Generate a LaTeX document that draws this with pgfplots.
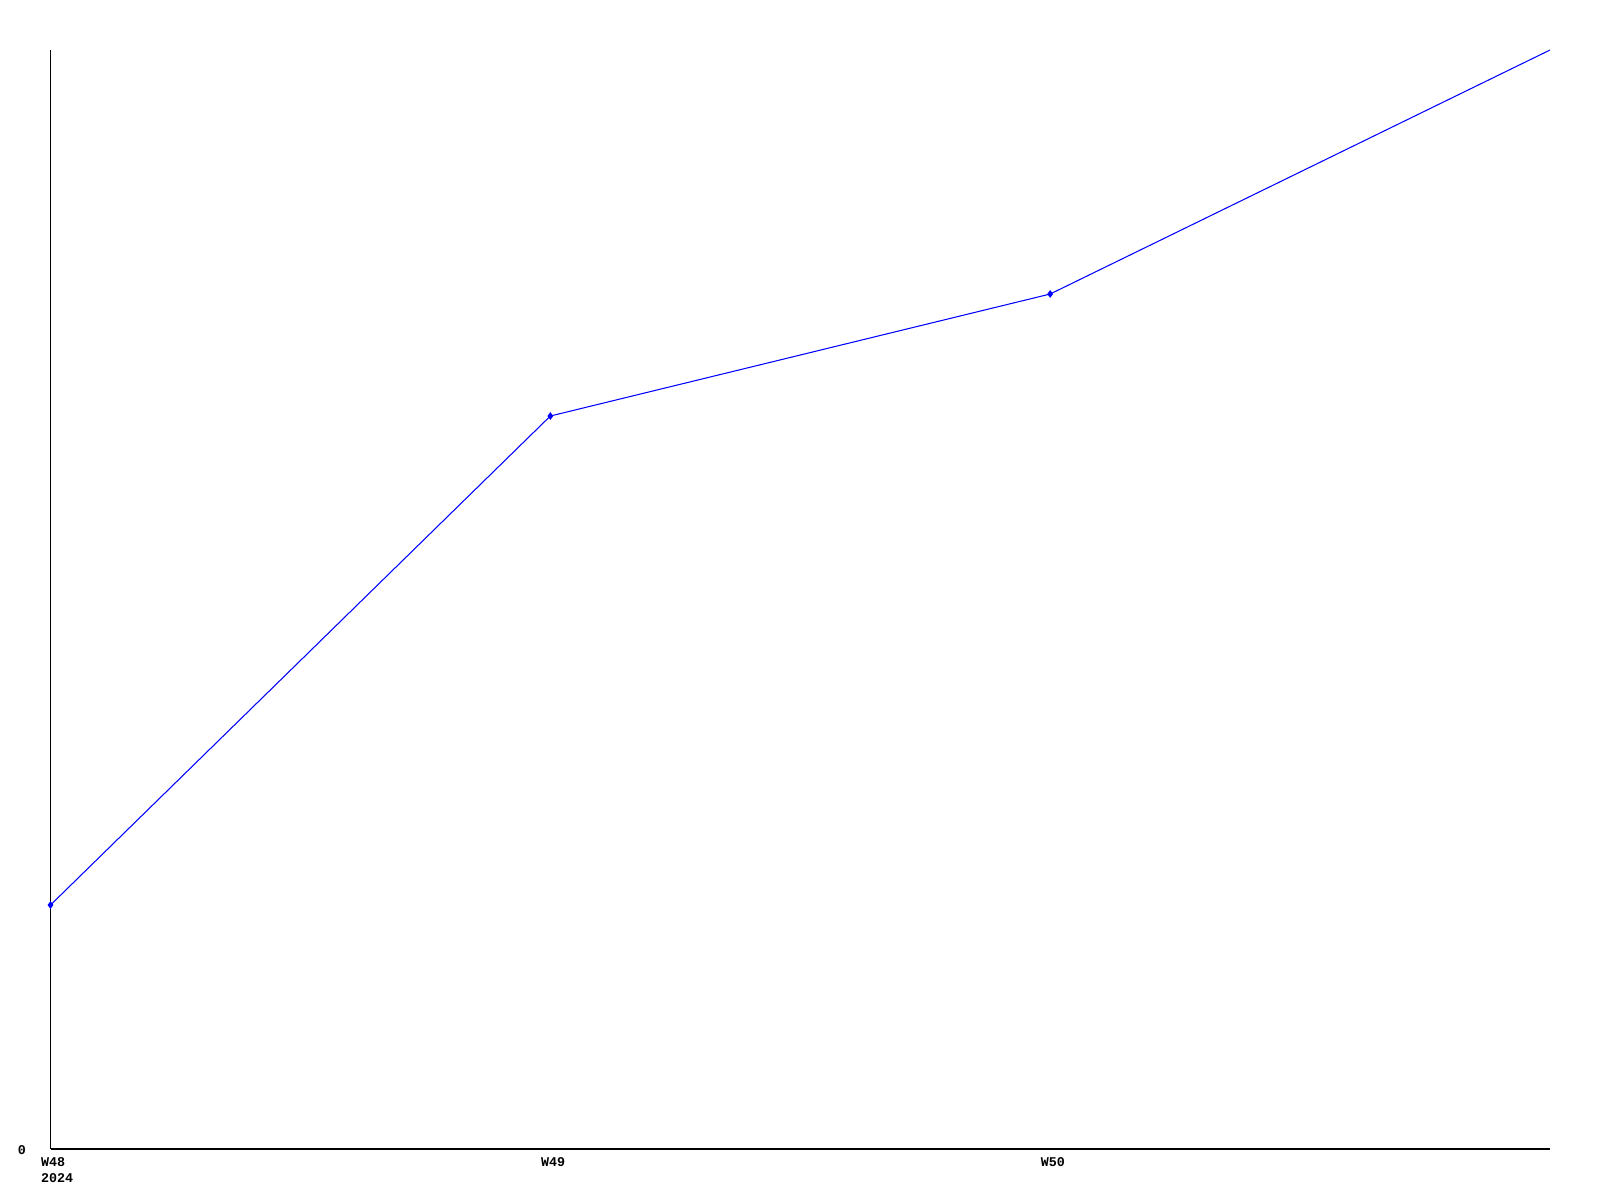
\documentclass[border=0pt]{standalone}
\usepackage{fontspec}
\setmainfont{Liberation Mono}
\usepackage{pgfplots}
\pgfplotsset{compat=1.18}
\begin{document}
\begin{tikzpicture}
\path[use as bounding box] (0mm,0mm) rectangle (160mm,-120mm);
\begin{axis}[
  at={(5.05mm,-114.9mm)}, anchor=south west,
  scale only axis, width=149.95mm, height=109.9mm,
  xmin=0, xmax=3, ymin=0, ymax=1099,
  axis lines=left, axis line style={-, line width=0.35pt, black},
  major tick length=0pt,
  xtick={0,1,2}, xticklabels={{W48\\2024},W49,W50},
  ytick={0}, yticklabels={0},
  /pgf/number format/assume math mode=true,
  ticklabel style={font=\fontsize{3.8}{4.4}\selectfont\bfseries},
  xticklabel style={anchor=north west, inner sep=0pt, xshift=-1mm, yshift=-0.8mm, align=left},
  yticklabel style={anchor=center, inner sep=0pt, xshift=-2.85mm, yshift=-0.15mm},
  clip=false,
]
\addplot[color={rgb,255:red,0;green,0;blue,255}, line width=0.3pt, mark=diamond*, mark size=0.3mm, mark indices={1,2,3}]
coordinates {(0,244) (1,733) (2,855) (3,1099)};
\end{axis}
\end{tikzpicture}
\end{document}
